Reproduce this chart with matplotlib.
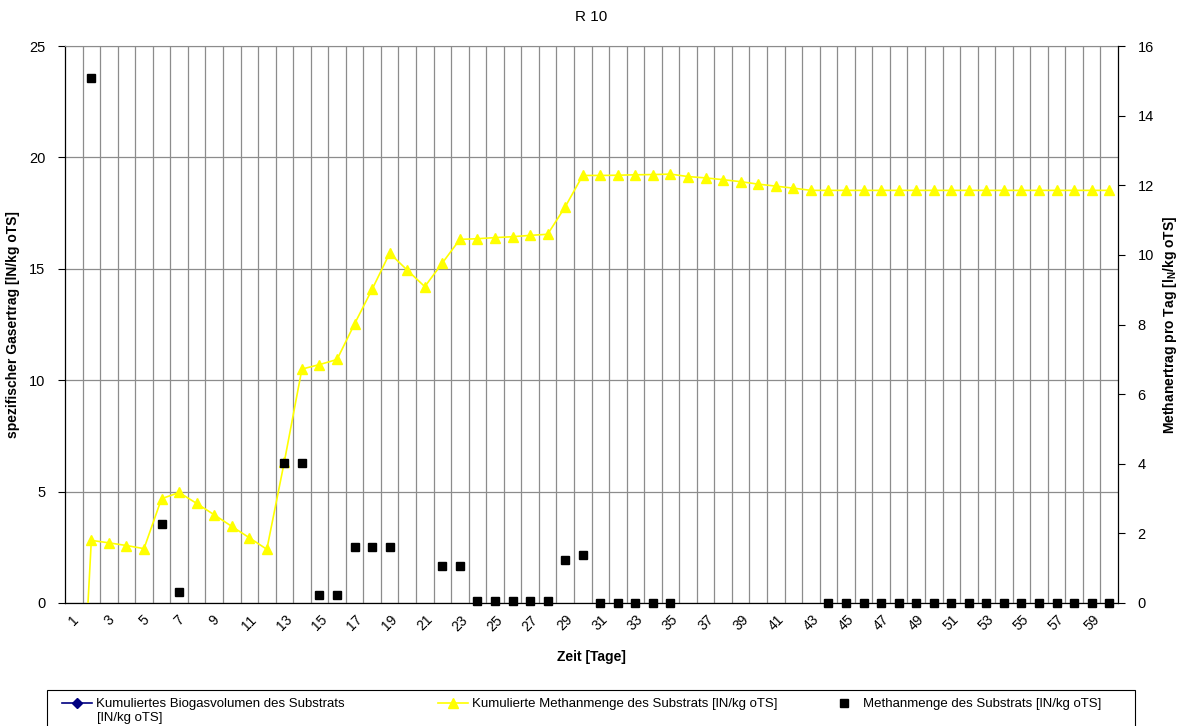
import numpy as np
import matplotlib.pyplot as plt
from matplotlib.lines import Line2D
from matplotlib.patches import Rectangle

plt.rcParams['font.family'] = ['Liberation Sans', 'DejaVu Sans']
plt.rcParams['mathtext.fontset'] = 'custom'
plt.rcParams['mathtext.rm'] = 'Liberation Sans'
plt.rcParams['mathtext.bf'] = 'Liberation Sans:bold'

# Versuchstage (Kategorien)
tage = np.arange(1, 61)
tick_tage = tage[::2]

# kumulierte Methanmenge [lN/kg oTS] (linke Achse)
kum_methan = [-12.0, 2.81, 2.70, 2.58, 2.44, 4.68, 4.96, 4.47, 3.96, 3.44,
              2.93, 2.41, 6.35, 10.50, 10.70, 10.93, 12.53, 14.08, 15.70, 14.94,
              14.20, 15.26, 16.32, 16.35, 16.40, 16.44, 16.50, 16.55, 17.78, 19.19,
              19.19, 19.20, 19.22, 19.23, 19.25, 19.14, 19.08, 19.00, 18.91, 18.80,
              18.71, 18.62, 18.52, 18.52, 18.52, 18.52, 18.52, 18.52, 18.52, 18.52,
              18.52, 18.52, 18.52, 18.52, 18.52, 18.52, 18.52, 18.52, 18.52, 18.52]

# Methanmenge pro Tag [lN/kg oTS] (rechte Achse), nan = kein Messwert
nan = np.nan
methan_tag = [nan, 15.07, nan, nan, nan, 2.27, 0.33, nan, nan, nan,
              nan, nan, 4.02, 4.02, 0.24, 0.24, 1.61, 1.61, 1.61, nan,
              nan, 1.07, 1.07, 0.06, 0.06, 0.06, 0.06, 0.06, 1.24, 1.38,
              0, 0, 0, 0, 0, nan, nan, nan, nan, nan,
              nan, nan, nan, 0, 0, 0, 0, 0, 0, 0,
              0, 0, 0, 0, 0, 0, 0, 0, 0, 0]

grid_col = '#8c8c8c'
W, H = 1180, 726

fig = plt.figure(figsize=(11.8, 7.26), dpi=100)
ax = fig.add_axes([65/W, 1-603/H, 1053/W, 557/H])
ax2 = ax.twinx()

ax.plot(tage, kum_methan, color='#ffff00', lw=1.2, marker='^', ms=7,
        markeredgecolor='#ffff00', zorder=3)
ax2.plot(tage, methan_tag, 's', color='black', ms=6, clip_on=False, zorder=5)

ax.set_xlim(0.5, 60.5)
ax.set_ylim(0, 25)
ax2.set_ylim(0, 16)
ax.set_yticks(range(0, 26, 5))
ax2.set_yticks(range(0, 17, 2))
ax.set_xticks(tick_tage)
ax.set_xticklabels([str(t) for t in tick_tage], rotation=45, ha='center', va='top')
ax.set_xticks(tage[:-1] + 0.5, minor=True)

ax.set_axisbelow(True)
ax.grid(which='minor', axis='x', color=grid_col, lw=0.9)
ax.grid(which='major', axis='y', color=grid_col, lw=0.9)
ax.tick_params(axis='x', which='both', length=0, labelsize=10, pad=7)
ax.tick_params(axis='y', length=5, width=0.8, labelsize=10.5, pad=9)
ax2.tick_params(axis='y', length=5, width=0.8, labelsize=10.5, pad=9)

ax.spines['top'].set_color(grid_col)
ax.spines['right'].set_visible(False)
for s in ['top', 'left', 'bottom']:
    ax2.spines[s].set_visible(False)
ax.spines['left'].set_linewidth(0.9)
ax.spines['bottom'].set_linewidth(0.9)
ax2.spines['right'].set_linewidth(0.9)

ax.set_title('R 10', fontsize=11, pad=18)
ax.set_xlabel('Zeit [Tage]', fontsize=10, fontweight='bold', labelpad=12)
ax.set_ylabel('spezifischer Gasertrag [lN/kg oTS]', fontsize=10,
              fontweight='bold')
ax2.set_ylabel(r'Methanertrag pro Tag [l$_\mathbf{N}$/kg oTS]', fontsize=10,
               fontweight='bold')
ax.yaxis.set_label_coords((20-65)/1053, 0.5)
ax2.yaxis.set_label_coords((1161-65)/1053, 0.5)

# Legendenrahmen (unten abgeschnitten wie im Original)
fig.add_artist(Rectangle((47/W, 1-745/H), (1135-47)/W, 55/H,
                         transform=fig.transFigure, facecolor='white',
                         edgecolor='black', lw=0.8))

eintraege = [
    (Line2D([], [], color='#000080', marker='D', ms=5, lw=1.2),
     'Kumuliertes Biogasvolumen des Substrats', 62),
    (Line2D([], [], color='#ffff00', marker='^', ms=7, lw=1.2),
     'Kumulierte Methanmenge des Substrats [lN/kg oTS]', 438),
    (Line2D([], [], color='black', marker='s', ms=6, lw=0),
     'Methanmenge des Substrats [lN/kg oTS]', 829),
]
for handle, label, x0 in eintraege:
    fig.legend([handle], [label], loc='center left',
               bbox_to_anchor=(x0/W, 1-704/H), fontsize=9.5, frameon=False,
               handlelength=2.3, handletextpad=0.3, borderpad=0,
               borderaxespad=0)
fig.text(97/W, 1-718/H, '[lN/kg oTS]', fontsize=9.5, ha='left', va='center')

fig.savefig('out.png', dpi=100)
